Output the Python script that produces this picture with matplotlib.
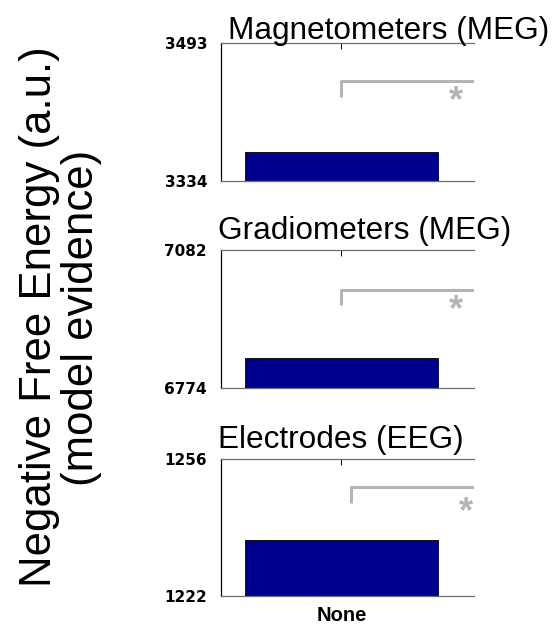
import matplotlib
matplotlib.use("Agg")
import matplotlib.pyplot as plt
from matplotlib.transforms import offset_copy

# panel data
titles = ["Magnetometers (MEG)", "Gradiometers (MEG)", "Electrodes (EEG)"]
conditions = ["None"]
ymin = [3334, 6774, 1222]
ymax = [3493, 7082, 1256]
bar_vals = [3367, 6841, 1236]
bracket_top = [3449, 6993, 1249]
bracket_foot = [3431, 6959, 1245]
bracket_start = [1.0, 1.0, 1.04]
bracket_end = [2.0, 2.0, 2.0]
star_x = [1.475, 1.475, 1.515]
star_y = [3435, 6964, 1244.6]

W, H = 552, 626
BAR_COLOR = "#00008F"
GRAY = "#b4b4b4"

plt.rcParams["font.family"] = ["Liberation Sans", "DejaVu Sans"]

fig = plt.figure(figsize=(W / 100, H / 100), dpi=100)

# axes boxes in pixels: (top, bottom)
boxes = [(43, 181), (250, 388), (459, 596)]
title_pos = [(228, 39), (218, 239), (218, 448)]
ax_left, ax_right = 221, 474

for i in range(3):
    top, bot = boxes[i]
    ax = fig.add_axes([ax_left / W, 1 - bot / H, (ax_right - ax_left) / W, (bot - top) / H])
    ax.bar([1], [bar_vals[i] - ymin[i]], bottom=ymin[i], width=0.8,
           color=BAR_COLOR, edgecolor="black", linewidth=0.6, zorder=2)
    ax.set_xlim(0.5, 1.55)
    ax.set_ylim(ymin[i], ymax[i])
    ax.set_yticks([ymin[i], ymax[i]])
    ax.set_yticklabels([str(ymin[i]), str(ymax[i])], fontfamily="DejaVu Sans",
                       fontweight="bold", fontsize=11)
    ax.set_xticks([1])
    if i == 2:
        ax.set_xticklabels(conditions, fontweight="bold", fontsize=14.5)
    else:
        ax.set_xticklabels([])
    ax.tick_params(direction="in", length=4, width=0.7, top=True, right=False)
    ax.tick_params(axis="y", pad=10)
    ax.tick_params(axis="x", pad=7)
    ax.spines["right"].set_visible(False)
    ax.spines["left"].set_color("black")
    ax.spines["left"].set_linewidth(0.9)
    for s in ("top", "bottom"):
        ax.spines[s].set_color("#6e6e6e")
        ax.spines[s].set_linewidth(0.9)

    # significance bracket (clipped by the axes)
    ax.plot([bracket_start[i], bracket_start[i], bracket_end[i]],
            [bracket_foot[i], bracket_top[i], bracket_top[i]],
            color=GRAY, linewidth=2.2, solid_capstyle="butt", zorder=3)
    star_tr = offset_copy(ax.transData, fig=fig, x=0, y=-8, units="dots")
    ax.text(star_x[i], star_y[i], "*", color=GRAY, fontsize=26, fontweight="bold",
            ha="center", va="center", zorder=3, transform=star_tr)

    fig.text(title_pos[i][0] / W, 1 - title_pos[i][1] / H, titles[i],
             fontsize=22.7, ha="left", va="baseline")

fig.text(40 / W, 1 - 317 / H, "Negative Free Energy (a.u.)", rotation=90,
         fontsize=31.5, ha="center", va="center")
fig.text(81 / W, 1 - 318 / H, "(model evidence)", rotation=90,
         fontsize=31.5, ha="center", va="center")

fig.savefig("out.png", dpi=100)
